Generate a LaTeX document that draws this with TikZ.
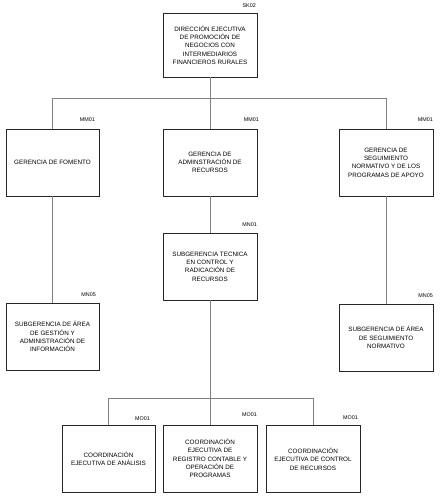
\documentclass[tikz,border=0pt]{standalone}
\usepackage{fontspec}
\setmainfont{Liberation Sans}
\begin{document}
\begin{tikzpicture}[x=1pt,y=-1pt,
  box/.style={draw=black!85, line width=0.8pt, minimum width=94pt, minimum height=67pt,
    align=center, inner sep=0pt, font=\fontsize{6.3}{8.3}\selectfont, text=black},
  code/.style={anchor=base east, inner sep=0pt, font=\fontsize{5.4}{6}\selectfont, text=black},
  conn/.style={draw=black!50, line width=0.9pt}]
\useasboundingbox (0,0) rectangle (440,501);
% boxes
\node[box, minimum height=64pt] (top) at (210,45) {DIRECCIÓN EJECUTIVA\\DE PROMOCIÓN DE\\NEGOCIOS CON\\INTERMEDIARIOS\\FINANCIEROS RURALES};
\node[box, minimum width=93pt] (fom) at (52.5,162.5) {GERENCIA DE FOMENTO};
\node[box] (adm) at (210,162.5) {GERENCIA DE\\ADMINSTRACIÓN DE\\RECURSOS};
\node[box] (seg) at (386,162.5) {GERENCIA DE\\SEGUIMIENTO\\NORMATIVO Y DE LOS\\PROGRAMAS DE APOYO};
\node[box] (sub) at (210,266.5) {SUBGERENCIA TECNICA\\EN CONTROL Y\\RADICACIÓN DE\\RECURSOS};
\node[box, minimum width=93pt] (sga) at (52.5,336.5) {SUBGERENCIA DE ÁREA\\DE GESTIÓN Y\\ADMINISTRACIÓN DE\\INFORMACIÓN};
\node[box] (sgn) at (386,337.5) {SUBGERENCIA DE ÁREA\\DE SEGUIMIENTO\\NORMATIVO};
\node[box, minimum width=93pt] (c1) at (108.5,458.5) {COORDINACIÓN\\EJECUTIVA DE ANÁLISIS};
\node[box] (c2) at (210,458.5) {COORDINACIÓN\\EJECUTIVA DE\\REGISTRO CONTABLE Y\\OPERACIÓN DE\\PROGRAMAS};
\node[box] (c3) at (313,459) {COORDINACIÓN\\EJECUTIVA DE CONTROL\\DE RECURSOS};
% codes
\node[code] (ltop) at (256,7.5) {SK02};
\node[code] (lfom) at (95,121) {MM01};
\node[code] (ladm) at (259,121) {MM01};
\node[code] (lseg) at (433,121) {MM01};
\node[code] (lsub) at (257,226) {MN01};
\node[code] (lsga) at (96,296) {MN05};
\node[code] (lsgn) at (433,297) {MN05};
\node[code] (lc1) at (150,420) {MO01};
\node[code] (lc2) at (257,416) {MO01};
\node[code] (lc3) at (358,419) {MO01};
% connectors
\coordinate (bus1) at (210,98);
\coordinate (bus2) at (210,398);
\draw[conn] (top) -- (adm);
\draw[conn] (fom.north) -- (fom.north |- bus1) -- (seg.north |- bus1) -- (seg.north);
\draw[conn] (fom) -- (sga);
\draw[conn] (seg) -- (sgn);
\draw[conn] (adm) -- (sub);
\draw[conn] (sub) -- (c2);
\draw[conn] (c1.north) -- (c1.north |- bus2) -- (c3.north |- bus2) -- (c3.north);
\end{tikzpicture}
\end{document}
